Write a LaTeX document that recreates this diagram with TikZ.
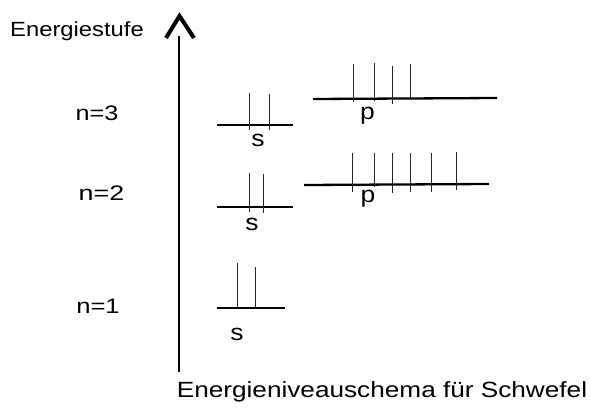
\documentclass[tikz,border=0pt]{standalone}
\usepackage{fontspec}
\setmainfont{Liberation Sans}
\begin{document}
\begin{tikzpicture}[x=1pt,y=-1pt,
  level/.style={line width=2.3pt},
  electron/.style={line width=0.9pt, black!85},
  axisline/.style={line width=2.3pt},
  axishead/.style={line width=4pt, line join=miter},
  lbl/.style={inner sep=0pt, anchor=base, font=\fontsize{21}{25}\selectfont},
  orb/.style={inner sep=0pt, anchor=base, font=\fontsize{23}{27}\selectfont, xscale=1.15}]
\useasboundingbox (0,0) rectangle (590,410);

% axis
\coordinate (axbot) at (179,372);
\coordinate (axtop) at (179,36);
\coordinate (hl) at (166,38);
\coordinate (hapex) at (179.5,16);
\coordinate (hr) at (194,38);
\draw[axisline] (axbot) -- (axtop);
\draw[axishead] (hl) -- (hapex) -- (hr);

% texts
\node[lbl, font=\fontsize{20.5}{24}\selectfont, xscale=1.16] (ylab) at (77,36) {Energiestufe};
\node[lbl, font=\fontsize{22}{26}\selectfont, xscale=1.19] (title) at (382,397) {Energieniveauschema für Schwefel};
\node[lbl, xscale=1.2] (n3) at (97,120) {n=3};
\node[lbl, xscale=1.28] (n2) at (101.5,200) {n=2};
\node[lbl, xscale=1.22] (n1) at (98,313) {n=1};

% n=3
\draw[level] (217,125) -- (293,125);
\draw[electron] (249,93) -- (249,130);
\draw[electron] (269,94) -- (269,130);
\node[orb] (s3) at (258,146.5) {s};
\draw[level] (313,99) -- (497,98);
\foreach \x/\t/\b in {353/64/102, 374/63/101, 392/66/104, 410/64/100}
  \draw[electron] (\x,\t) -- (\x,\b);
\node[orb] (p3) at (367.5,119.5) {p};

% n=2
\draw[level] (217,207) -- (293,207);
\draw[electron] (249,173) -- (249,212);
\draw[electron] (263,174) -- (263,213);
\node[orb] (s2) at (252,230.5) {s};
\draw[level] (304,185) -- (489,184);
\foreach \x/\t/\b in {352/153/192, 374/153/187, 392/153/193, 410/153/192, 431/153/192, 456/152/190}
  \draw[electron] (\x,\t) -- (\x,\b);
\node[orb] (p2) at (368,202) {p};

% n=1
\draw[level] (217,308) -- (285,308);
\draw[electron] (237,263) -- (237,308);
\draw[electron] (255,267) -- (255,308);
\node[orb] (s1) at (237,340.5) {s};
\end{tikzpicture}
\end{document}
